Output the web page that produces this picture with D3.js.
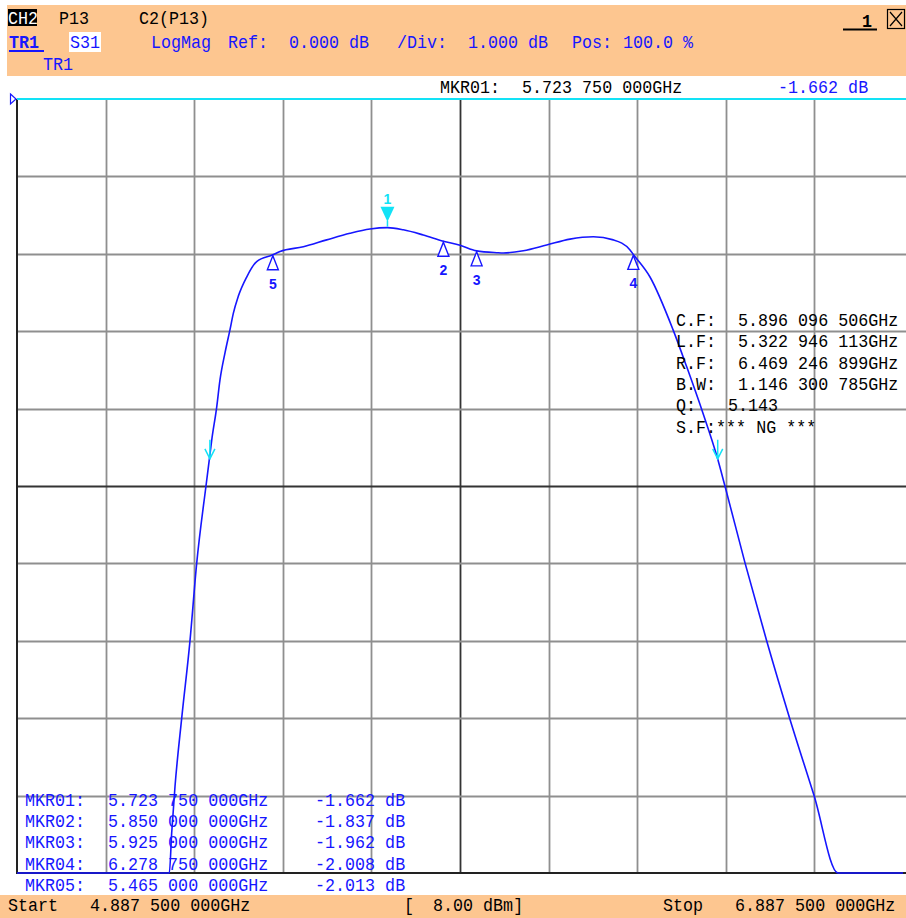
<!DOCTYPE html>
<html>
<head>
<meta charset="utf-8">
<script src="https://cdn.jsdelivr.net/npm/d3@7"></script>
<style>
  html, body { margin: 0; padding: 0; background: #fff; }
  svg { display: block; }
  text { white-space: pre; }
</style>
</head>
<body>
<svg id="chart" width="906" height="918"></svg>
<script>
// ---------------- DATA ----------------
const startGHz = 4.8875;
const stopGHz = 6.8875;
const refDb = 0;
const divDb = 1;
const nDivX = 10;
const nDivY = 10;

// trace S31 (GHz, dB); -10 dB = displayed bottom (clamped)
const freqGHz = [4.8875, 5.2313, 5.2367, 5.2442, 5.2593, 5.2780, 5.2931, 5.3141, 5.3216, 5.3270,
  5.3383, 5.3457, 5.3570, 5.3683, 5.3758, 5.3870, 5.4060, 5.4286, 5.4650, 5.4812,
  5.5338, 5.5866, 5.6392, 5.6843, 5.72375, 5.7595, 5.8046, 5.8500, 5.8875, 5.9250,
  5.9704, 5.9853, 6.0304, 6.0831, 6.1358, 6.1884, 6.2336, 6.2713, 6.27875, 6.3164,
  6.3683, 6.3999, 6.4360, 6.4676, 6.4856, 6.5307, 6.5797, 6.6321, 6.6867, 6.7408, 6.8875];
const magDb = [-10.0, -10.0, -9.48, -8.88, -8.00, -7.00, -6.00, -5.00, -4.66, -4.41,
  -3.98, -3.63, -3.28, -2.98, -2.77, -2.55, -2.30, -2.10, -2.013, -1.97,
  -1.91, -1.82, -1.735, -1.68, -1.662, -1.69, -1.757, -1.837, -1.89, -1.962,
  -1.986, -1.99, -1.96, -1.886, -1.81, -1.78, -1.82, -1.95, -2.008, -2.30,
  -2.98, -3.47, -4.06, -4.62, -5.00, -5.99, -7.00, -8.01, -9.00, -10.0, -10.0];

// markers
const markerIds = ["1", "2", "3", "4", "5"];
const markerFreq = [5.72375, 5.85, 5.925, 6.27875, 5.465];
const markerDb = [-1.662, -1.837, -1.962, -2.008, -2.013];
const markerFreqText = ["5.723 750 000GHz", "5.850 000 000GHz", "5.925 000 000GHz", "6.278 750 000GHz", "5.465 000 000GHz"];
const markerDbText = ["-1.662 dB", "-1.837 dB", "-1.962 dB", "-2.008 dB", "-2.013 dB"];

// filter analysis
const bwLevelDb = -1.662 - 3;
const bwEdgesGHz = [5.322946113, 6.469246899];
const analysisLabels = ["C.F:", "L.F:", "R.F:", "B.W:"];
const analysisValues = ["5.896 096 506GHz", "5.322 946 113GHz", "6.469 246 899GHz", "1.146 300 785GHz"];
const qText = "5.143";
const sfText = "S.F:*** NG ***";

// ---------------- DRAW ----------------
const svg = d3.select("#chart");
const ORANGE = "#fdc690";
const BLUE = "#1616ff";
const CYAN = "#12e2f6";
const FONT = "'Liberation Mono', 'DejaVu Sans Mono', monospace";

const X0 = 17, X1 = 903, Y0 = 99, Y1 = 873;
const x = d3.scaleLinear().domain([startGHz, stopGHz]).range([X0, X1]);
const y = d3.scaleLinear().domain([refDb, refDb - divDb * nDivY]).range([Y0, Y1]).clamp(true);

function T(g, px, py, s, opt = {}) {
  return g.append("text")
    .attr("transform", `translate(${px},${py}) scale(1,1.1)`)
    .attr("font-family", FONT)
    .attr("font-size", opt.size || 16.7)
    .attr("font-weight", opt.bold ? "bold" : "normal")
    .attr("fill", opt.fill || "#000")
    .attr("text-anchor", opt.anchor || "start")
    .text(s);
}

// header band
svg.append("rect").attr("x", 7).attr("y", 5).attr("width", 899).attr("height", 71).attr("fill", ORANGE);
// bottom band
svg.append("rect").attr("x", 0).attr("y", 895).attr("width", 906).attr("height", 23).attr("fill", ORANGE);

const hdr = svg.append("g");
hdr.append("rect").attr("x", 8).attr("y", 9).attr("width", 29).attr("height", 17).attr("fill", "#000");
T(hdr, 8, 24, "CH2", { fill: "#fff" });
T(hdr, 59, 24, "P13");
T(hdr, 139, 24, "C2(P13)");
T(hdr, 9, 48, "TR1", { fill: BLUE, bold: true });
hdr.append("line").attr("x1", 9).attr("x2", 44).attr("y1", 51).attr("y2", 51).attr("stroke", BLUE).attr("stroke-width", 2);
hdr.append("rect").attr("x", 69).attr("y", 32).attr("width", 32).attr("height", 20).attr("fill", "#fff");
T(hdr, 70, 48, "S31", { fill: BLUE });
T(hdr, 151, 48, "LogMag", { fill: BLUE });
T(hdr, 228, 48, "Ref:", { fill: BLUE });
T(hdr, 289, 48, d3.format(".3f")(refDb) + " dB", { fill: BLUE });
T(hdr, 397, 48, "/Div:", { fill: BLUE });
T(hdr, 468, 48, d3.format(".3f")(divDb) + " dB", { fill: BLUE });
T(hdr, 572, 48, "Pos:", { fill: BLUE });
T(hdr, 623, 48, "100.0 %", { fill: BLUE });
T(hdr, 43, 70, "TR1", { fill: BLUE });
T(hdr, 862, 27, "1", { bold: true });
hdr.append("line").attr("x1", 843).attr("x2", 877).attr("y1", 29.5).attr("y2", 29.5).attr("stroke", "#000").attr("stroke-width", 2);
hdr.append("rect").attr("x", 887.5).attr("y", 9.5).attr("width", 17).attr("height", 19).attr("fill", "none").attr("stroke", "#000").attr("stroke-width", 1.2);
hdr.append("path").attr("d", "M890,12 L902,26 M902,12 L890,26").attr("stroke", "#000").attr("stroke-width", 1.2);

// active marker readout
T(svg, 440, 93, "MKR01:");
T(svg, 522, 93, markerFreqText[0]);
T(svg, 778, 93, markerDbText[0], { fill: BLUE });

// grid
const grid = svg.append("g");
const vTicks = d3.range(1, nDivX).map(k => startGHz + k * (stopGHz - startGHz) / nDivX);
const hTicks = d3.range(1, nDivY).map(k => refDb - k * divDb);
grid.selectAll("line.v").data(vTicks).join("line")
  .attr("x1", d => Math.round(x(d)) + 0.5).attr("x2", d => Math.round(x(d)) + 0.5)
  .attr("y1", Y0).attr("y2", Y1)
  .attr("stroke", (d, i) => i === 4 ? "#333" : "#8f8f8f").attr("stroke-width", 1.8);
grid.selectAll("line.h").data(hTicks).join("line")
  .attr("y1", d => Math.round(y(d)) + 0.5).attr("y2", d => Math.round(y(d)) + 0.5)
  .attr("x1", X0).attr("x2", 906)
  .attr("stroke", (d, i) => i === 4 ? "#333" : "#8f8f8f").attr("stroke-width", 1.8);
// borders
grid.append("line").attr("x1", X0).attr("x2", X0).attr("y1", Y0).attr("y2", Y1).attr("stroke", "#222").attr("stroke-width", 2);
grid.append("line").attr("x1", X0 - 1).attr("x2", 906).attr("y1", Y1).attr("y2", Y1).attr("stroke", "#222").attr("stroke-width", 2);
grid.append("line").attr("x1", X0).attr("x2", 906).attr("y1", Y0).attr("y2", Y0).attr("stroke", CYAN).attr("stroke-width", 2);
// reference position indicator
grid.append("path").attr("d", `M10.5,${Y0 - 5} L16,${Y0} L10.5,${Y0 + 5} Z`).attr("fill", "#fff").attr("stroke", BLUE).attr("stroke-width", 1.2);

// trace
const pts = freqGHz.map((f, i) => [f, magDb[i]]);
const line = d3.line().x(d => x(d[0])).y(d => y(d[1])).curve(d3.curveMonotoneX);
svg.append("path").datum(pts).attr("d", line).attr("fill", "none").attr("stroke", BLUE).attr("stroke-width", 1.6);

// markers
const mk = svg.append("g");
markerIds.forEach((id, i) => {
  const mx = x(markerFreq[i]), my = y(markerDb[i]);
  if (i === 0) {
    mk.append("path").attr("d", `M${mx - 7},${my - 21} L${mx + 7},${my - 21} L${mx},${my - 6} Z`).attr("fill", CYAN);
    mk.append("line").attr("x1", mx).attr("x2", mx).attr("y1", my - 7).attr("y2", my - 1).attr("stroke", CYAN).attr("stroke-width", 1.5);
    mk.append("text").attr("x", mx).attr("y", my - 24).attr("text-anchor", "middle")
      .attr("font-family", "'Liberation Sans', Arial, sans-serif").attr("font-weight", "bold").attr("font-size", 14)
      .attr("fill", CYAN).text(id);
  } else {
    mk.append("path").attr("d", `M${mx},${my + 1} L${mx + 5.5},${my + 15} L${mx - 5.5},${my + 15} Z`)
      .attr("fill", "#fff").attr("stroke", BLUE).attr("stroke-width", 1.4);
    mk.append("text").attr("x", mx).attr("y", my + 34).attr("text-anchor", "middle")
      .attr("font-family", "'Liberation Sans', Arial, sans-serif").attr("font-weight", "bold").attr("font-size", 14)
      .attr("fill", BLUE).text(id);
  }
});

// bandwidth edge arrows
bwEdgesGHz.forEach(f => {
  const ax = x(f), ay = y(bwLevelDb);
  mk.append("path").attr("d", `M${ax},${ay - 20} L${ax},${ay - 1} M${ax - 5},${ay - 11} L${ax},${ay - 1} L${ax + 5},${ay - 11}`)
    .attr("fill", "none").attr("stroke", CYAN).attr("stroke-width", 1.5);
});

// filter analysis box
const an = svg.append("g");
analysisLabels.forEach((l, i) => {
  T(an, 676, 326 + i * 21.3, l);
  T(an, 738, 326 + i * 21.3, analysisValues[i]);
});
T(an, 676, 326 + 4 * 21.3, "Q:");
T(an, 728, 326 + 4 * 21.3, qText);
T(an, 676, 326 + 5 * 21.3, sfText);

// marker table
const tb = svg.append("g");
markerIds.forEach((id, i) => {
  const by = 806 + i * 21.2;
  T(tb, 25, by, "MKR0" + id + ":", { fill: BLUE });
  T(tb, 108, by, markerFreqText[i], { fill: BLUE });
  T(tb, 315, by, markerDbText[i], { fill: BLUE });
});

// bottom bar
T(svg, 8, 911, "Start");
T(svg, 90, 911, "4.887 500 000GHz");
T(svg, 404, 911, "[");
T(svg, 433, 911, "8.00 dBm]");
T(svg, 663, 911, "Stop");
T(svg, 735, 911, "6.887 500 000GHz");
</script>
</body>
</html>
